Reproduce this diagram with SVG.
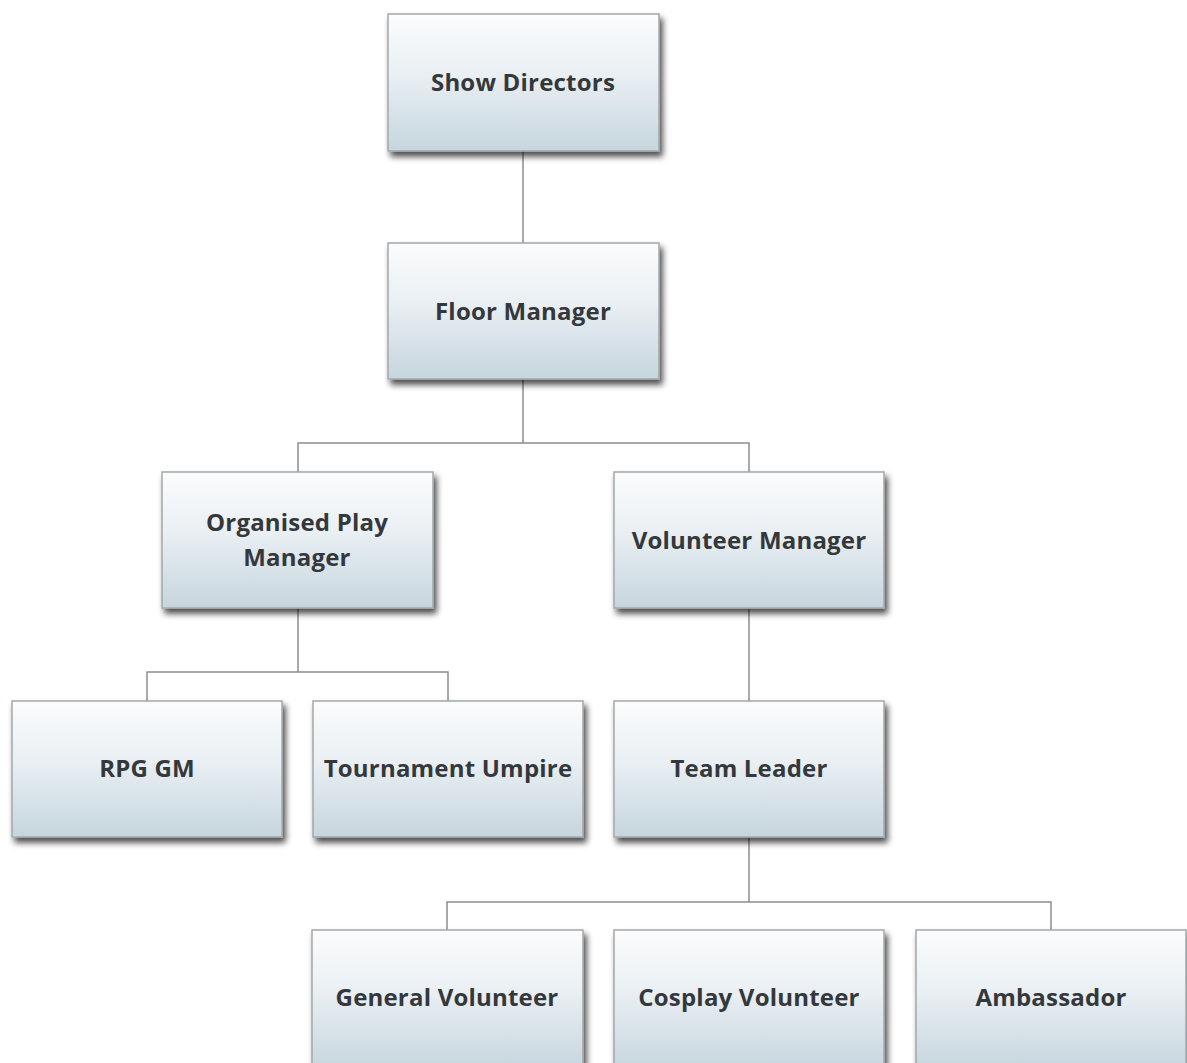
<svg xmlns="http://www.w3.org/2000/svg" width="1187" height="1063" viewBox="0 0 1187 1063">
<style>
.box{fill:url(#g);stroke:#a3a8ab;stroke-width:1.5;filter:url(#sh)}
.t{font-family:"Open Sans","DejaVu Sans",sans-serif;font-weight:bold;font-size:24px;letter-spacing:0.2px;fill:#35383b;text-anchor:middle;dominant-baseline:central}
.c{fill:none;stroke:#8a8d90;stroke-width:1.5}
</style>
<defs>
<linearGradient id="g" x1="0" y1="0" x2="0" y2="1">
<stop offset="0" stop-color="#fbfcfd"/>
<stop offset="0.45" stop-color="#e9eff3"/>
<stop offset="1" stop-color="#c6d5de"/>
</linearGradient>
<filter id="sh" x="-10%" y="-10%" width="125%" height="130%">
<feGaussianBlur in="SourceAlpha" stdDeviation="3"/>
<feOffset dx="3" dy="5" result="b"/>
<feComponentTransfer><feFuncA type="linear" slope="0.7"/></feComponentTransfer>
<feMerge><feMergeNode/><feMergeNode in="SourceGraphic"/></feMerge>
</filter>
</defs>
<rect width="1187" height="1063" fill="#fff"/>
<g id="connectors">
<path class="c" d="M523 151V243"/>
<path class="c" d="M523 379V443M298 472V443H749V472"/>
<path class="c" d="M298 608V672M147 701V672H448V701"/>
<path class="c" d="M749 608V701"/>
<path class="c" d="M749 837V902M447 930V902H1051V930"/>
</g>
<g id="show-directors"><rect class="box" x="388" y="14" width="271" height="137"/><text class="t" x="523" y="81">Show Directors</text></g>
<g id="floor-manager"><rect class="box" x="388" y="243" width="271" height="136"/><text class="t" x="523" y="310">Floor Manager</text></g>
<g id="organised-play-manager"><rect class="box" x="162" y="472" width="271" height="136"/><text class="t" x="297" y="521">Organised Play</text><text class="t" x="297" y="556">Manager</text></g>
<g id="volunteer-manager"><rect class="box" x="614" y="472" width="270" height="136"/><text class="t" x="749" y="539">Volunteer Manager</text></g>
<g id="rpg-gm"><rect class="box" x="12" y="701" width="270" height="136"/><text class="t" x="147" y="767">RPG GM</text></g>
<g id="tournament-umpire"><rect class="box" x="313" y="701" width="270" height="136"/><text class="t" x="448" y="767">Tournament Umpire</text></g>
<g id="team-leader"><rect class="box" x="614" y="701" width="270" height="136"/><text class="t" x="749" y="767">Team Leader</text></g>
<g id="general-volunteer"><rect class="box" x="312" y="930" width="271" height="140"/><text class="t" x="447" y="996">General Volunteer</text></g>
<g id="cosplay-volunteer"><rect class="box" x="614" y="930" width="270" height="140"/><text class="t" x="749" y="996">Cosplay Volunteer</text></g>
<g id="ambassador"><rect class="box" x="916" y="930" width="270" height="140"/><text class="t" x="1051" y="996">Ambassador</text></g>
</svg>
